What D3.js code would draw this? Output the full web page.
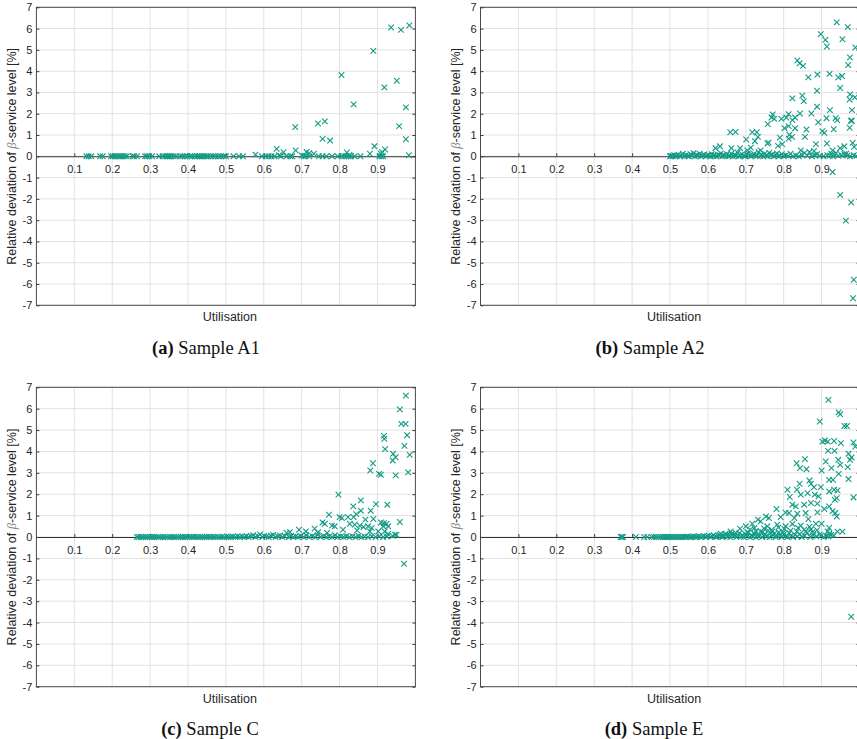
<!DOCTYPE html>
<html>
<head>
<meta charset="utf-8">
<script src="https://cdn.jsdelivr.net/npm/d3@7"></script>
<style>
body { margin: 0; background: #fff; }
svg { display: block; font-family: "Liberation Sans", Arial, sans-serif; }
</style>
</head>
<body>
<svg id="chart" width="857" height="739"></svg>
<script>
// tick values
var xTicks = [0.1, 0.2, 0.3, 0.4, 0.5, 0.6, 0.7, 0.8, 0.9];
var yTicks = [-7, -6, -5, -4, -3, -2, -1, 0, 1, 2, 3, 4, 5, 6, 7];

// Sample A1: points on the zero line, then the rest
var a1Zero = [0.132, 0.138, 0.145, 0.168, 0.175, 0.197, 0.202, 0.207, 0.212, 0.218, 0.223, 0.228, 0.233, 0.238,
  0.254, 0.258, 0.265, 0.287, 0.292, 0.298, 0.305, 0.324, 0.333, 0.340, 0.345, 0.348, 0.352, 0.356, 0.362, 0.368,
  0.379, 0.385, 0.392, 0.398, 0.405, 0.410, 0.418, 0.424, 0.428, 0.432, 0.437, 0.442, 0.447, 0.452, 0.460, 0.466,
  0.472, 0.480, 0.487, 0.494, 0.500, 0.520, 0.535, 0.545, 0.595, 0.605, 0.612, 0.620, 0.628, 0.645, 0.660, 0.670,
  0.675, 0.705, 0.710, 0.720, 0.745, 0.755, 0.765, 0.780, 0.795, 0.805, 0.812, 0.818, 0.824, 0.830, 0.840, 0.855,
  0.905, 0.910, 0.915];
var a1Pts = [[0.984, 6.15], [0.936, 6.05], [0.962, 5.94], [0.889, 4.95], [0.805, 3.82], [0.951, 3.55], [0.918, 3.24],
  [0.837, 2.44], [0.975, 2.30], [0.683, 1.37], [0.743, 1.54], [0.761, 1.64], [0.957, 1.42], [0.755, 0.82],
  [0.775, 0.74], [0.975, 0.80], [0.892, 0.47], [0.920, 0.32], [0.634, 0.35], [0.684, 0.28], [0.652, 0.19],
  [0.713, 0.20], [0.732, 0.12], [0.819, 0.18], [0.880, 0.12], [0.909, 0.12], [0.912, 0.20], [0.983, 0.05],
  [0.578, 0.08], [0.700, 0.03], [0.640, 0.05], [0.720, 0.15], [0.826, 0.06]];

// Sample A2
var a2Band = [[0.500, 0], [0.503, 0.02], [0.507, 0], [0.511, 0.05], [0.515, 0], [0.518, 0.03], [0.522, 0.08],
  [0.526, 0], [0.530, 0.04], [0.534, 0.12], [0.538, 0], [0.542, 0.06], [0.546, 0.02], [0.550, 0], [0.554, 0.10],
  [0.558, 0.04], [0.562, 0.15], [0.566, 0], [0.570, 0.07], [0.574, 0.03], [0.578, 0.12], [0.582, 0], [0.586, 0.05],
  [0.590, 0.09], [0.594, 0], [0.598, 0.03], [0.602, 0.06], [0.606, 0], [0.610, 0.10], [0.614, 0.02], [0.618, 0.05],
  [0.622, 0], [0.626, 0.08], [0.630, 0.03], [0.634, 0.14], [0.638, 0], [0.642, 0.06], [0.646, 0.02], [0.650, 0.10],
  [0.654, 0], [0.658, 0.04], [0.662, 0.12], [0.666, 0], [0.670, 0.07], [0.674, 0.03], [0.678, 0.18], [0.682, 0],
  [0.686, 0.05], [0.690, 0.10], [0.694, 0.02], [0.698, 0], [0.702, 0.08], [0.706, 0.15], [0.710, 0.03], [0.714, 0],
  [0.718, 0.06], [0.722, 0.11], [0.726, 0], [0.730, 0.04], [0.734, 0.20], [0.738, 0.02], [0.742, 0.08], [0.746, 0],
  [0.750, 0.12], [0.754, 0.05], [0.758, 0], [0.762, 0.16], [0.766, 0.03], [0.770, 0.09], [0.774, 0], [0.778, 0.06],
  [0.782, 0.14], [0.786, 0], [0.790, 0.03], [0.795, 0.10], [0.800, 0], [0.806, 0.05], [0.812, 0.02], [0.818, 0.12],
  [0.825, 0], [0.832, 0.04], [0.840, 0], [0.848, 0.08], [0.855, 0.15], [0.862, 0.03], [0.868, 0.20], [0.875, 0],
  [0.882, 0.06], [0.888, 0.10], [0.895, 0.02], [0.905, 0], [0.915, 0.05], [0.922, 0.03], [0.926, 0.12], [0.930, 0],
  [0.934, 0.08], [0.938, 0.15], [0.944, 0.02], [0.952, 0.06], [0.960, 0.10], [0.968, 0.03], [0.975, 0], [0.985, 0.05],
  [0.992, 0.02]];
var a2Pts = [[0.940, 6.29], [0.969, 6.07], [0.898, 5.74], [0.910, 5.47], [0.955, 5.50], [0.914, 5.16], [0.989, 5.11],
  [0.836, 4.50], [0.842, 4.37], [0.851, 4.25], [0.975, 4.65], [0.970, 4.29], [0.865, 3.71], [0.889, 3.84],
  [0.921, 3.87], [0.944, 3.71], [0.954, 3.77], [0.949, 3.21], [0.888, 3.08], [0.975, 2.91], [0.988, 2.77],
  [0.823, 2.72], [0.849, 2.85], [0.853, 2.59], [0.974, 2.67], [0.888, 2.33], [0.922, 2.17], [0.873, 2.01],
  [0.843, 2.01], [0.813, 1.98], [0.771, 1.97], [0.768, 1.82], [0.775, 1.76], [0.794, 1.76], [0.807, 1.82],
  [0.830, 1.82], [0.823, 1.70], [0.937, 1.79], [0.941, 1.70], [0.913, 1.79], [0.891, 1.60], [0.977, 1.67],
  [0.974, 1.34], [0.758, 1.51], [0.813, 1.42], [0.802, 1.32], [0.830, 1.32], [0.860, 1.26], [0.932, 1.27],
  [0.902, 1.18], [0.907, 1.10], [0.659, 1.13], [0.673, 1.15], [0.717, 1.13], [0.729, 1.13], [0.732, 0.91],
  [0.724, 0.71], [0.701, 0.79], [0.815, 1.01], [0.822, 0.91], [0.813, 0.83], [0.856, 0.91], [0.790, 0.88],
  [0.796, 0.57], [0.757, 0.60], [0.760, 0.64], [0.914, 0.60], [0.885, 0.57], [0.982, 0.63], [0.960, 0.47],
  [0.949, 0.38], [0.986, 0.44], [0.632, 0.47], [0.620, 0.38], [0.662, 0.38], [0.685, 0.38], [0.713, 0.41],
  [0.704, 0.28], [0.739, 0.28], [0.845, 0.28], [0.880, 0.25], [0.929, 0.28], [0.785, 0.49], [0.980, 2.17],
  [0.980, 1.67], [0.965, 0.12], [0.929, -0.74], [0.949, -1.81], [0.978, -2.17], [0.964, -3.02], [0.985, -5.80],
  [0.983, -6.67]];

// Sample C
var cBand = [[0.265, 0], [0.270, 0], [0.276, 0], [0.282, 0], [0.288, 0], [0.293, 0], [0.299, 0], [0.305, 0],
  [0.311, 0], [0.316, 0], [0.322, 0], [0.328, 0], [0.334, 0], [0.340, 0], [0.346, 0], [0.352, 0], [0.357, 0],
  [0.363, 0], [0.369, 0], [0.375, 0], [0.381, 0], [0.386, 0], [0.392, 0], [0.398, 0], [0.404, 0], [0.410, 0],
  [0.415, 0], [0.420, 0.02], [0.426, 0], [0.432, 0], [0.438, 0], [0.444, 0], [0.449, 0], [0.455, 0.02], [0.461, 0],
  [0.467, 0], [0.472, 0], [0.478, 0.02], [0.484, 0], [0.490, 0], [0.496, 0], [0.502, 0.03], [0.507, 0], [0.513, 0],
  [0.519, 0.02], [0.525, 0], [0.531, 0.04], [0.537, 0], [0.543, 0.02], [0.549, 0], [0.554, 0.05], [0.560, 0],
  [0.566, 0.03], [0.572, 0.08], [0.578, 0], [0.584, 0.04], [0.590, 0.12], [0.596, 0], [0.601, 0.05], [0.607, 0.02],
  [0.613, 0], [0.619, 0.06], [0.625, 0.10], [0.631, 0], [0.637, 0.03], [0.643, 0.07], [0.649, 0], [0.655, 0.04],
  [0.660, 0.20], [0.666, 0], [0.672, 0.06], [0.678, 0], [0.684, 0.03], [0.690, 0], [0.697, 0.05], [0.705, 0],
  [0.712, 0.08], [0.720, 0], [0.728, 0.04], [0.735, 0], [0.742, 0.10], [0.750, 0], [0.758, 0.05], [0.765, 0],
  [0.773, 0.03], [0.780, 0], [0.788, 0.08], [0.795, 0], [0.803, 0.02], [0.810, 0], [0.818, 0.05], [0.826, 0],
  [0.834, 0.03], [0.842, 0], [0.850, 0.06], [0.858, 0], [0.866, 0.02], [0.875, 0], [0.885, 0.04], [0.895, 0],
  [0.905, 0.03], [0.915, 0], [0.925, 0.02], [0.940, 0.05], [0.950, 0.10]];
var cPts = [[0.975, 6.61], [0.959, 5.97], [0.963, 5.29], [0.974, 5.29], [0.978, 4.76], [0.917, 4.73], [0.918, 4.59],
  [0.971, 4.26], [0.920, 4.11], [0.941, 3.89], [0.948, 3.73], [0.940, 3.58], [0.985, 3.84], [0.888, 3.45],
  [0.881, 3.11], [0.904, 2.95], [0.909, 2.91], [0.948, 2.88], [0.981, 3.02], [0.797, 1.98], [0.856, 1.71],
  [0.896, 1.54], [0.926, 1.51], [0.836, 1.43], [0.856, 1.23], [0.882, 1.23], [0.844, 1.07], [0.772, 1.04],
  [0.800, 0.93], [0.806, 0.89], [0.822, 0.93], [0.837, 0.93], [0.868, 0.81], [0.889, 0.84], [0.959, 0.70],
  [0.755, 0.68], [0.761, 0.62], [0.780, 0.53], [0.787, 0.50], [0.827, 0.62], [0.840, 0.58], [0.853, 0.53],
  [0.863, 0.47], [0.875, 0.50], [0.885, 0.42], [0.909, 0.68], [0.917, 0.65], [0.924, 0.62], [0.928, 0.50],
  [0.915, 0.50], [0.693, 0.34], [0.711, 0.26], [0.734, 0.39], [0.743, 0.22], [0.767, 0.19], [0.809, 0.34],
  [0.846, 0.31], [0.880, 0.26], [0.902, 0.26], [0.919, 0.26], [0.946, 0.11], [0.928, 0.14], [0.669, 0.23],
  [0.970, -1.25]];

// Sample E
var eBand = [[0.370, 0], [0.373, 0], [0.376, 0], [0.410, 0], [0.432, 0], [0.440, 0], [0.452, 0], [0.458, 0],
  [0.464, 0], [0.470, 0], [0.476, 0], [0.482, 0], [0.487, 0], [0.492, 0], [0.497, 0], [0.502, 0], [0.507, 0],
  [0.512, 0], [0.517, 0], [0.522, 0], [0.527, 0], [0.532, 0], [0.537, 0], [0.542, 0], [0.546, 0.02], [0.551, 0],
  [0.556, 0], [0.561, 0.03], [0.566, 0], [0.571, 0], [0.576, 0.04], [0.580, 0], [0.585, 0.02], [0.590, 0.05],
  [0.594, 0], [0.598, 0.03], [0.603, 0.06], [0.607, 0], [0.611, 0.04], [0.615, 0.08], [0.619, 0.02], [0.623, 0],
  [0.627, 0.06], [0.631, 0.10], [0.635, 0.03], [0.639, 0], [0.643, 0.05], [0.647, 0.12], [0.651, 0.02], [0.655, 0.08],
  [0.659, 0], [0.663, 0.15], [0.667, 0.04], [0.671, 0.10], [0.675, 0], [0.679, 0.06], [0.683, 0.18], [0.687, 0.02],
  [0.691, 0.09], [0.695, 0], [0.699, 0.13], [0.703, 0.05], [0.707, 0.20], [0.711, 0], [0.715, 0.08], [0.719, 0.03],
  [0.723, 0.15], [0.727, 0], [0.731, 0.10], [0.735, 0.04], [0.739, 0.25], [0.743, 0], [0.747, 0.07], [0.751, 0.12],
  [0.755, 0.02], [0.759, 0.30], [0.763, 0], [0.767, 0.05], [0.771, 0.10], [0.775, 0.16], [0.779, 0], [0.783, 0.04],
  [0.787, 0.22], [0.791, 0.08], [0.795, 0], [0.800, 0.12], [0.805, 0.03], [0.810, 0], [0.815, 0.18], [0.820, 0.06],
  [0.825, 0], [0.830, 0.10], [0.836, 0.02], [0.842, 0.14], [0.848, 0], [0.855, 0.05], [0.862, 0.20], [0.870, 0],
  [0.878, 0.08], [0.886, 0.03], [0.895, 0.12], [0.905, 0], [0.912, 0.06], [0.918, 0.02], [0.920, 0.15], [0.925, 0.10],
  [0.712, 0.35], [0.726, 0.28], [0.748, 0.40], [0.768, 0.33], [0.786, 0.45], [0.802, 0.38], [0.818, 0.30],
  [0.838, 0.42], [0.858, 0.25], [0.868, 0.48], [0.888, 0.32], [0.898, 0.05], [0.932, 0.08]];
var ePts = [[0.918, 6.41], [0.945, 5.83], [0.949, 5.74], [0.960, 5.19], [0.967, 5.19], [0.895, 5.40], [0.902, 4.46],
  [0.909, 4.51], [0.916, 4.46], [0.933, 4.49], [0.951, 4.39], [0.984, 4.42], [0.989, 4.23], [0.917, 4.03],
  [0.934, 4.03], [0.971, 3.89], [0.979, 3.72], [0.975, 3.61], [0.944, 3.61], [0.911, 3.53], [0.834, 3.45],
  [0.856, 3.64], [0.843, 3.22], [0.860, 3.17], [0.900, 3.11], [0.926, 3.22], [0.969, 3.27], [0.949, 3.37],
  [0.920, 2.67], [0.930, 2.67], [0.971, 2.71], [0.945, 2.95], [0.868, 2.64], [0.872, 2.49], [0.842, 2.49],
  [0.810, 2.21], [0.835, 2.21], [0.880, 2.33], [0.898, 2.33], [0.920, 2.13], [0.933, 2.21], [0.942, 2.18],
  [0.816, 1.87], [0.845, 1.98], [0.863, 2.05], [0.882, 1.98], [0.892, 1.90], [0.940, 1.82], [0.935, 1.74],
  [0.984, 1.85], [0.781, 1.31], [0.823, 1.51], [0.832, 1.43], [0.854, 1.51], [0.872, 1.59], [0.889, 1.56],
  [0.907, 1.31], [0.920, 1.43], [0.929, 1.21], [0.936, 1.12], [0.940, 0.96], [0.805, 1.14], [0.814, 1.12],
  [0.836, 1.09], [0.858, 1.12], [0.889, 1.15], [0.753, 0.96], [0.761, 0.89], [0.792, 0.93], [0.828, 0.89],
  [0.865, 0.84], [0.900, 0.62], [0.885, 0.62], [0.732, 0.81], [0.739, 0.73], [0.717, 0.62], [0.700, 0.50],
  [0.723, 0.42], [0.685, 0.39], [0.757, 0.50], [0.783, 0.58], [0.805, 0.50], [0.823, 0.61], [0.845, 0.53],
  [0.872, 0.36], [0.854, 0.34], [0.920, 0.42], [0.942, 0.25], [0.955, 0.25], [0.916, 0.26], [0.660, 0.26],
  [0.673, 0.19], [0.704, 0.22], [0.744, 0.22], [0.770, 0.26], [0.799, 0.22], [0.835, 0.26], [0.876, 0.22],
  [0.634, 0.16], [0.647, 0.16], [0.978, -3.73]];

var teal = "#129b86";
var plotW = 379;

var panels = [
  {left: 36.4, top: 7.3, h: 298, band: a1Zero.map(function(v) { return [v, 0]; }), pts: a1Pts, tag: "(a)", name: " Sample A1", capX: 206},
  {left: 480.5, top: 7.3, h: 298, band: a2Band, pts: a2Pts, tag: "(b)", name: " Sample A2", capX: 650},
  {left: 36.4, top: 387.3, h: 299.4, band: cBand, pts: cPts, tag: "(c)", name: " Sample C", capX: 210},
  {left: 480.5, top: 387.3, h: 299.4, band: eBand, pts: ePts, tag: "(d)", name: " Sample E", capX: 654}
];

var svg = d3.select("#chart");

function drawPanel(p) {
  var x = d3.scaleLinear().domain([0, 1]).range([p.left, p.left + plotW]);
  var y = d3.scaleLinear().domain([-7, 7]).range([p.top + p.h, p.top]);
  var g = svg.append("g");

  // grid
  g.selectAll(".gx").data(xTicks).join("line")
    .attr("x1", function(d) { return x(d); }).attr("x2", function(d) { return x(d); })
    .attr("y1", y(7)).attr("y2", y(-7))
    .attr("stroke", "#e1e1e1").attr("stroke-width", 1);
  g.selectAll(".gy").data(yTicks).join("line")
    .attr("x1", x(0)).attr("x2", x(1))
    .attr("y1", function(d) { return y(d); }).attr("y2", function(d) { return y(d); })
    .attr("stroke", "#e1e1e1").attr("stroke-width", 1);

  // box
  g.append("rect")
    .attr("x", x(0)).attr("y", y(7))
    .attr("width", x(1) - x(0)).attr("height", y(-7) - y(7))
    .attr("fill", "none").attr("stroke", "#4a4a4a").attr("stroke-width", 1);

  // y axes (left labelled, right ticks only); plain hyphen for negatives
  var yl = g.append("g").attr("transform", "translate(" + x(0) + ",0)")
    .call(d3.axisLeft(y).tickValues(yTicks).tickSize(-3).tickPadding(4).tickFormat(function(d) { return String(d); }));
  var yr = g.append("g").attr("transform", "translate(" + x(1) + ",0)")
    .call(d3.axisRight(y).tickValues(yTicks).tickSize(-3).tickFormat(""));

  // x axis through the origin
  var xa = g.append("g").attr("transform", "translate(0," + y(0) + ")")
    .call(d3.axisBottom(x).tickValues(xTicks).tickSize(-3).tickSizeOuter(0).tickPadding(9).tickFormat(d3.format(".1f")));

  [yl, yr, xa].forEach(function(a) {
    a.attr("font-family", "'Liberation Sans', Arial, sans-serif").attr("font-size", 11);
    a.selectAll("line").attr("stroke", "#3a3a3a");
    a.selectAll("text").attr("fill", "#262626");
  });
  yl.select(".domain").remove();
  yr.select(".domain").remove();
  xa.select(".domain").attr("stroke", "#333").attr("stroke-width", 1.1);

  // markers
  var all = p.band.concat(p.pts);
  g.selectAll(".pt").data(all).join("path")
    .attr("transform", function(d) { return "translate(" + x(d[0]) + "," + y(d[1]) + ")"; })
    .attr("d", "M-2.8,-2.8L2.8,2.8M-2.8,2.8L2.8,-2.8")
    .attr("fill", "none").attr("stroke", teal).attr("stroke-width", 1.1);

  // axis labels
  g.append("text")
    .attr("x", (x(0) + x(1)) / 2 + 4).attr("y", y(-7) + 16)
    .attr("text-anchor", "middle").attr("font-size", 12.5).attr("fill", "#262626")
    .text("Utilisation");

  var yt = g.append("text")
    .attr("transform", "translate(" + (x(0) - 20.5) + "," + ((y(7) + y(-7)) / 2) + ") rotate(-90)")
    .attr("text-anchor", "middle").attr("font-size", 12.5).attr("fill", "#262626");
  yt.append("tspan").text("Relative deviation of ");
  yt.append("tspan").attr("font-family", "'Liberation Serif', serif").attr("font-style", "italic")
    .attr("fill", "#808080").text("β");
  yt.append("tspan").text("-service level [%]");

  // caption
  var cap = svg.append("text")
    .attr("x", p.capX).attr("y", y(-7) + 48.3)
    .attr("text-anchor", "middle")
    .attr("font-family", "'Liberation Serif', 'Times New Roman', serif")
    .attr("font-size", 18.5).attr("fill", "#111");
  cap.append("tspan").attr("font-weight", "bold").text(p.tag);
  cap.append("tspan").text(p.name);
}

panels.forEach(drawPanel);
</script>
</body>
</html>
